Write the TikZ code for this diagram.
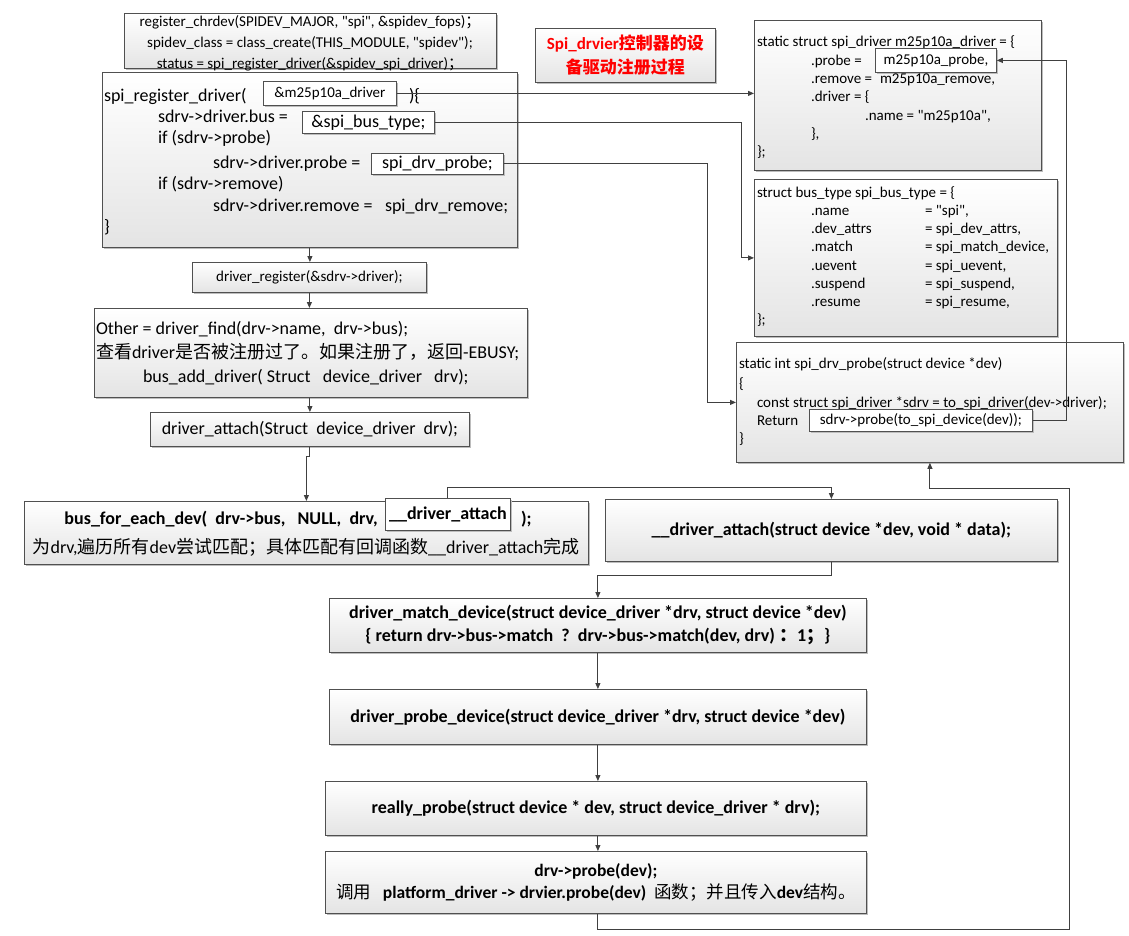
\documentclass[tikz,border=0pt]{standalone}
\usepackage{fontspec}
\setmainfont{Carlito}[Ligatures=TeXOff]
\newfontfamily\cjk{Noto Sans CJK SC}
\usetikzlibrary{arrows.meta,shadows,calc}
\definecolor{boxline}{HTML}{505050}
\definecolor{boxbot}{HTML}{E4E4E4}
\definecolor{shadowc}{HTML}{BDBDBD}
\definecolor{arrc}{HTML}{404040}
\newcommand{\zh}[1]{{\cjk #1}}
\newcommand\fbig{\fontsize{18}{21}\selectfont}
\newcommand\fmid{\fontsize{15}{19}\selectfont}
\newcommand\ftop{\fontsize{15}{21}\selectfont}
\newcommand\fsm{\fontsize{15}{21}\selectfont}
\newcommand\fbd{\fontsize{18}{23}\selectfont\bfseries}
\newcommand\fmix{\fontsize{17.5}{22}\selectfont}
\newcommand\ftitle{\fontsize{17}{24}\selectfont\bfseries}
\begin{document}
\begin{tikzpicture}[x=1pt,y=-1pt,
  box/.style={draw=boxline, line width=0.8pt, top color=white, bottom color=boxbot,
    drop shadow={shadow xshift=2pt, shadow yshift=-2pt, fill=shadowc, opacity=1},
    inner sep=0pt, anchor=north west},
  inbox/.style={draw=boxline, line width=0.8pt, fill=white,
    drop shadow={shadow xshift=1.5pt, shadow yshift=-1.5pt, fill=shadowc, opacity=1},
    inner sep=0pt, anchor=north west},
  t/.style={anchor=base west, inner sep=0pt, outer sep=0pt},
  arr/.style={draw=arrc, line width=0.9pt, -{Triangle[length=6pt,width=5pt]}},
  ln/.style={draw=arrc, line width=0.9pt}]
\fill[white] (0,0) rectangle (1129,935);
\useasboundingbox (0,0) rectangle (1129,935);

% ---------- top-left code box
\node[box, minimum width=372, minimum height=55] (top) at (124,13) {};
\node[align=center, font=\ftop, inner sep=0pt] (toptext) at (310,43)
 {register\_chrdev(SPIDEV\_MAJOR, "spi", \&spidev\_fops)\zh{；}\\
  spidev\_class = class\_create(THIS\_MODULE, "spidev");\\
  status = spi\_register\_driver(\&spidev\_spi\_driver)\zh{；}};

% ---------- title
\node[box, minimum width=180, minimum height=54, align=center, font=\ftitle, text=red] (title) at (535,28)
 {Spi\_drvier\zh{控制器的设}\\\zh{备驱动注册过程}};

% ---------- spi_register_driver box
\node[box, minimum width=415, minimum height=175] (reg) at (102,72) {};
\node[t, font=\fbig] (r1) at (104,101) {spi\_register\_driver(};
\node[inbox, minimum width=133, minimum height=24, font=\fmid] (m25in) at (263,81) {\&m25p10a\_driver};
\node[t, font=\fbig] (r1b) at (409,101) {)\{};
\node[t, font=\fbig] (r2) at (158,122) {sdrv->driver.bus =};
\node[inbox, minimum width=132, minimum height=22, font=\fbig] (busin) at (302,111) {\&spi\_bus\_type;};
\node[t, font=\fbig] (r3) at (158,143) {if (sdrv->probe)};
\node[t, font=\fbig] (r4) at (213,168) {sdrv->driver.probe =};
\node[inbox, minimum width=132, minimum height=21, font=\fbig] (probein) at (371,153) {spi\_drv\_probe;};
\node[t, font=\fbig] (r5) at (158,189) {if (sdrv->remove)};
\node[t, font=\fbig] (r6) at (213,211) {sdrv->driver.remove =};
\node[t, font=\fbig] (r6b) at (385,211) {spi\_drv\_remove;};
\node[t, font=\fbig] (r7) at (104,232) {\}};

% ---------- driver_register
\node[box, minimum width=234, minimum height=30, font=\ftop] (dreg) at (192,262) {driver\_register(\&sdrv->driver);};

% ---------- Other box
\node[box, minimum width=433, minimum height=89] (other) at (94,308) {};
\node[t, font=\fbig] (o1) at (96,334.6) {Other = driver\_find(drv->name,\ \ drv->bus);};
\node[t, font=\fbig] (o2) at (96,358.6) {\zh{查看}driver\zh{是否被注册过了。如果注册了，返回}-EBUSY;};
\node[t, font=\fbig] (o3) at (143,382.6) {bus\_add\_driver( Struct\ \ \ device\_driver\ \ \ drv);};

% ---------- driver_attach
\node[box, minimum width=319, minimum height=34, font=\fbig] (attach) at (150,412) {driver\_attach(Struct\ \ device\_driver\ \ drv);};

% ---------- bus_for_each_dev
\node[box, minimum width=564, minimum height=63] (bfe) at (24,501) {};
\node[inbox, minimum width=125, minimum height=32, font=\fbd] (dain) at (385,498) {\_\_driver\_attach};
\node[anchor=base east, inner sep=0pt, font=\fbd] (b1) at (378,524) {bus\_for\_each\_dev(\ \ drv->bus,\ \ \ NULL,\ \ drv,};
\node[t, font=\fbd] (b1b) at (521,524) {);};
\node[anchor=base, inner sep=0pt, font=\fbig] (b2) at (306,553) {\zh{为}drv,\zh{遍历所有}dev\zh{尝试匹配；具体匹配有回调函数}\_\_driver\_attach\zh{完成}};

% ---------- __driver_attach
\node[box, minimum width=452, minimum height=62, font=\fbd] (dattach) at (605,499) {\_\_driver\_attach(struct device *dev, void * data);};

% ---------- bottom chain
\node[box, minimum width=537, minimum height=54, font=\fbd, align=center] (match) at (329,598)
 {driver\_match\_device(struct device\_driver *drv, struct device *dev)\\
  \{ return drv->bus->match\ \ ?\ \ drv->bus->match(dev, drv) \zh{：}1\zh{；}\}};
\node[box, minimum width=537, minimum height=55, font=\fbd] (pdev) at (329,689)
 {driver\_probe\_device(struct device\_driver *drv, struct device *dev)};
\node[box, minimum width=541, minimum height=54, font=\fbd] (really) at (325,781)
 {really\_probe(struct device * dev, struct device\_driver * drv);};
\node[box, minimum width=541, minimum height=62, font=\fmix, align=center] (drvprobe) at (325,851)
 {\textbf{drv->probe(dev);}\\
  \zh{调用}\ \ \ \textbf{platform\_driver -> drvier.probe(dev)}\ \ \zh{函数；并且传入}\textbf{dev}\zh{结构。}};

% ---------- spi_driver struct
\node[box, minimum width=287, minimum height=150] (sdrv) at (754,20) {};
\node[t, font=\fsm] (s1) at (757,46) {static struct spi\_driver m25p10a\_driver = \{};
\node[t, font=\fsm] (s2) at (811,65) {.probe =};
\node[inbox, minimum width=121, minimum height=24, font=\fsm] (m25p) at (875,48) {m25p10a\_probe,};
\node[t, font=\fsm] (s3) at (811,83) {.remove =};
\node[t, font=\fsm] (s3b) at (880,83) {m25p10a\_remove,};
\node[t, font=\fsm] (s4) at (811,101) {.driver = \{};
\node[t, font=\fsm] (s5) at (865,120) {.name = "m25p10a",};
\node[t, font=\fsm] (s6) at (811,138) {\},};
\node[t, font=\fsm] (s7) at (757,156) {\};};

% ---------- bus_type struct
\node[box, minimum width=303, minimum height=157] (btype) at (754,179) {};
\node[t, font=\fsm] (t0) at (757,197) {struct bus\_type spi\_bus\_type = \{};
\node[t, font=\fsm] (t1) at (811,215) {.name};
\node[t, font=\fsm] (t1b) at (925,215) {= "spi",};
\node[t, font=\fsm] (t2) at (811,233) {.dev\_attrs};
\node[t, font=\fsm] (t2b) at (925,233) {= spi\_dev\_attrs,};
\node[t, font=\fsm] (t3) at (811,251.5) {.match};
\node[t, font=\fsm] (t3b) at (925,251.5) {= spi\_match\_device,};
\node[t, font=\fsm] (t4) at (811,270) {.uevent};
\node[t, font=\fsm] (t4b) at (925,270) {= spi\_uevent,};
\node[t, font=\fsm] (t5) at (811,288) {.suspend};
\node[t, font=\fsm] (t5b) at (925,288) {= spi\_suspend,};
\node[t, font=\fsm] (t6) at (811,306) {.resume};
\node[t, font=\fsm] (t6b) at (925,306) {= spi\_resume,};
\node[t, font=\fsm] (t7) at (757,324) {\};};

% ---------- spi_drv_probe
\node[box, minimum width=387, minimum height=120] (sprobe) at (736,342) {};
\node[t, font=\fsm] (p1) at (739,368) {static int spi\_drv\_probe(struct device *dev)};
\node[t, font=\fsm] (p2) at (739,388) {\{};
\node[t, font=\fsm] (p3) at (757,407) {const struct spi\_driver *sdrv = to\_spi\_driver(dev->driver);};
\node[t, font=\fsm] (p4) at (757,425) {Return};
\node[inbox, minimum width=223, minimum height=22, font=\fsm] (sdrvin) at (809,409) {sdrv->probe(to\_spi\_device(dev));};
\node[t, font=\fsm] (p5) at (739,443) {\}};

% ---------- bend points
\coordinate (bx) at (741,0);
\coordinate (cx) at (707,0);
\coordinate (dx) at (1066,0);
\coordinate (iy) at (0,487);
\coordinate (nb) at (1069,929);
\coordinate (nt) at (1069,488);

% ---------- connectors
\draw[arr] (m25in.east) -- (m25in.east -| sdrv.west);
\draw[arr] (busin.east) -- (busin.east -| bx) |- (btype.west);
\draw[arr] (probein.east) -- (probein.east -| cx) |- (sprobe.west);
\draw[arr] (sdrvin.east) -- (sdrvin.east -| dx) |- (m25p.east);
\draw[arr] (reg.south) -- (reg.south |- dreg.north);
\draw[arr] (dreg.south) -- (dreg.south |- other.north);
\draw[arr] (other.south -| attach.north) -- (attach.north);
\draw[arr] (attach.south) -- ++(0,10) -| (bfe.north);
\draw[arr] (dain.north) -- (dain.north |- iy) -| (dattach.north);
\draw[arr] (dattach.south) -- ++(0,14) -| (match.north);
\draw[arr] (match.south) -- (match.south |- pdev.north);
\draw[arr] (pdev.south) -- (pdev.south |- really.north);
\draw[arr] (really.south -| pdev.south) -- (pdev.south |- drvprobe.north);
\draw[arr] (drvprobe.south -| pdev.south) |- (nb) -- (nt) -| (sprobe.south);
\end{tikzpicture}
\end{document}
